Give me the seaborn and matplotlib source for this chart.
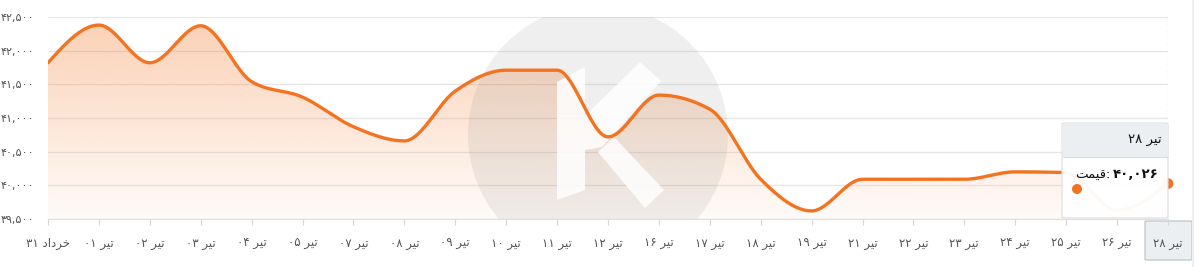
import numpy as np
import pandas as pd
import matplotlib
matplotlib.use("Agg")
import matplotlib.pyplot as plt
import seaborn as sns
from matplotlib.patches import Polygon, FancyBboxPatch, Rectangle, Ellipse
from matplotlib.lines import Line2D

# ---------------- data ----------------
categories = ["خرداد ۳۱", "تیر ۰۱", "تیر ۰۲", "تیر ۰۳", "تیر ۰۴", "تیر ۰۵", "تیر ۰۷",
              "تیر ۰۸", "تیر ۰۹", "تیر ۱۰", "تیر ۱۱", "تیر ۱۲", "تیر ۱۶", "تیر ۱۷",
              "تیر ۱۸", "تیر ۱۹", "تیر ۲۱", "تیر ۲۲", "تیر ۲۳", "تیر ۲۴", "تیر ۲۵",
              "تیر ۲۶", "تیر ۲۸"]
prices = [41820, 42380, 41820, 42370, 41540, 41310, 40870, 40660, 41400, 41710,
          41710, 40720, 41340, 41130, 40090, 39620, 40090, 40090, 40090, 40200,
          40190, 39630, 40026]
y_ticks = [39500, 40000, 40500, 41000, 41500, 42000, 42500]
series_name = "قیمت"
hover_index = 22

# ---------------- simple Arabic-script shaping (visual order) ----------------
FORMS = {  # isolated, final, initial, medial
    "ت": ("\uFE95", "\uFE96", "\uFE97", "\uFE98"),
    "ی": ("\uFBFC", "\uFBFD", "\uFEF3", "\uFEF4"),
    "ر": ("\uFEAD", "\uFEAE", None, None),
    "خ": ("\uFEA5", "\uFEA6", "\uFEA7", "\uFEA8"),
    "د": ("\uFEA9", "\uFEAA", None, None),
    "ا": ("\uFE8D", "\uFE8E", None, None),
    "ق": ("\uFED5", "\uFED6", "\uFED7", "\uFED8"),
    "م": ("\uFEE1", "\uFEE2", "\uFEE3", "\uFEE4"),
}


def dual(c):
    return c in FORMS and FORMS[c][2] is not None


def shape_word(w):
    out = []
    for i, c in enumerate(w):
        if c not in FORMS:
            out.append(c)
            continue
        jp = i > 0 and dual(w[i - 1])
        jn = i < len(w) - 1 and w[i + 1] in FORMS and dual(c)
        f = FORMS[c]
        if jp and jn:
            out.append(f[3])
        elif jp:
            out.append(f[1])
        elif jn:
            out.append(f[2])
        else:
            out.append(f[0])
    return "".join(reversed(out))


def visual(s):
    toks = s.split(" ")
    res = []
    for t in reversed(toks):
        if any(c in FORMS for c in t):
            res.append(shape_word(t))
        else:
            res.append(t)
    return " ".join(res)


PDIG = str.maketrans("0123456789", "۰۱۲۳۴۵۶۷۸۹")


def fa_num(v):
    return format(int(v), ",").translate(PDIG)


# ---------------- smoothing (monotone cubic, like d3 curveMonotoneX) ----------------
def monotone(xs, ys, n=40):
    xs = np.asarray(xs, float)
    ys = np.asarray(ys, float)
    h = np.diff(xs)
    s = np.diff(ys) / h
    m = np.zeros_like(ys)
    for i in range(1, len(ys) - 1):
        s0, s1 = s[i - 1], s[i]
        p = (s0 * h[i] + s1 * h[i - 1]) / (h[i - 1] + h[i])
        m[i] = (np.sign(s0) + np.sign(s1)) * min(abs(s0), abs(s1), 0.5 * abs(p))
    m[0] = (3 * s[0] - m[1]) / 2
    m[-1] = (3 * s[-1] - m[-2]) / 2
    X, Y = [], []
    for i in range(len(xs) - 1):
        t = np.linspace(0, 1, n, endpoint=(i == len(xs) - 2))
        h00 = 2 * t**3 - 3 * t**2 + 1
        h10 = t**3 - 2 * t**2 + t
        h01 = -2 * t**3 + 3 * t**2
        h11 = t**3 - t**2
        X.append(xs[i] + t * h[i])
        Y.append(h00 * ys[i] + h10 * h[i] * m[i] + h01 * ys[i + 1] + h11 * h[i] * m[i + 1])
    return np.concatenate(X), np.concatenate(Y)


# ---------------- figure ----------------
sns.set_theme(style="white")
plt.rcParams["font.family"] = ["DejaVu Sans"]

W, H = 1196, 267
fig = plt.figure(figsize=(W / 100, H / 100), dpi=100)
fig.patch.set_facecolor("white")


def P(x, y):
    return (x / W, (H - y) / H)


ax_l, ax_r, ax_t, ax_b = 48, 1168, 17, 219
ax = fig.add_axes([ax_l / W, (H - ax_b) / H, (ax_r - ax_l) / W, (ax_b - ax_t) / H])
ax.set_facecolor("none")

ORANGE = "#f47321"
xi = np.arange(len(categories))
sx, sy = monotone(xi, prices)
df = pd.DataFrame({"x": sx, "y": sy})

# gridlines
for v in y_ticks:
    ax.axhline(v, color="#e6e6e6", lw=0.9, zorder=0.5)

# gradient area
fill = ax.fill_between(sx, sy, y_ticks[0], color="none", lw=0)
grad = np.linspace(0.03, 0.33, 256).reshape(-1, 1)
rgba = np.zeros((256, 1, 4))
rgba[..., :3] = matplotlib.colors.to_rgb(ORANGE)
rgba[..., 3] = grad
top = max(prices)
im = ax.imshow(rgba, extent=[0, len(categories) - 1, y_ticks[0], top + 60], origin="lower",
               aspect="auto", zorder=1, interpolation="bilinear")
im.set_clip_path(fill.get_paths()[0], transform=ax.transData)
ax.set_xlim(0, len(categories) - 1)
ax.set_ylim(y_ticks[0], y_ticks[-1])

# watermark
wm = Ellipse(P(598, 135), 260 / W, 260 / H, transform=fig.transFigure,
             facecolor=(0.45, 0.45, 0.45), alpha=0.11, edgecolor="none", zorder=1.5)
ax.add_artist(wm)
k_parts = [
    [(557, 82), (585, 67), (585, 190), (557, 200)],
    [(640, 62), (661, 81), (602, 147), (585, 150), (585, 116)],
    [(598, 152), (614, 137), (664, 190), (645, 208)],
]
for pts in k_parts:
    ax.add_artist(Polygon([P(*p) for p in pts], closed=True, transform=fig.transFigure,
                          facecolor="white", alpha=0.85, edgecolor="none", zorder=1.6))

# line
sns.lineplot(data=df, x="x", y="y", ax=ax, color=ORANGE, lw=2.4, sort=False,
             estimator=None, zorder=3)

# crosshair and hover marker
ax.axvline(hover_index, color="#b5b5b5", lw=0.8, ls=(0, (3, 3)), zorder=2)
ax.scatter([hover_index], [prices[hover_index]], s=60, color=ORANGE, zorder=4,
           clip_on=False, edgecolor="none")

# axes styling
for sp in ["top", "right", "left"]:
    ax.spines[sp].set_visible(False)
ax.spines["bottom"].set_color("#e0e0e0")
ax.spines["bottom"].set_linewidth(0.9)
ax.set_xticks(xi)
ax.set_xticklabels([visual(c) for c in categories], fontsize=8.5, color="#555555")
ax.set_yticks(y_ticks)
ax.set_yticklabels([fa_num(v) for v in y_ticks], fontsize=8, color="#555555")
ax.tick_params(axis="x", length=4, width=0.8, color="#d6d6d6", pad=9, bottom=True)
ax.tick_params(axis="y", length=0, pad=10, left=False)
ax.set_xlabel("")
ax.set_ylabel("")
ax.grid(False)

# highlighted x label box
fig.patches.append(FancyBboxPatch(P(1145, 260), 47 / W, 39 / H,
                                  boxstyle="round,pad=0,rounding_size=0.002",
                                  transform=fig.transFigure, facecolor="#eceff1",
                                  edgecolor="#b7c0c7", lw=0.8, zorder=-1))

# right container border
fig.add_artist(Line2D([1193 / W, 1193 / W], [0, 1], color="#efefef", lw=1.5))

# tooltip
fig.patches.append(FancyBboxPatch(P(1062, 218), 106 / W, 95 / H,
                                  boxstyle="round,pad=0,rounding_size=0.004",
                                  transform=fig.transFigure, facecolor=(1, 1, 1, 0.96),
                                  edgecolor="#dddddd", lw=0.8, zorder=5))
fig.patches.append(Rectangle(P(1062.5, 157), 105 / W, 33.5 / H, transform=fig.transFigure,
                             facecolor="#eceff1", edgecolor="none", zorder=5.1))
fig.add_artist(Line2D([1062.5 / W, 1167.5 / W], [(H - 157) / H] * 2, color="#dddddd",
                      lw=0.8, zorder=5.2))
fig.text(*P(1162, 140), visual(categories[hover_index]), ha="right", va="center",
         fontsize=9.5, color="#111111", zorder=6)
num = fig.text(*P(1159, 175), fa_num(prices[hover_index]), ha="right", va="center",
               fontsize=9.5, fontweight="bold", color="#111111", zorder=6)
fig.canvas.draw()
bb = num.get_window_extent()
fig.text(bb.x0 / W - 3 / W, (H - 175) / H, shape_word(series_name) + ":", ha="right",
         va="center", fontsize=9.5, color="#111111", zorder=6)
fig.add_artist(Ellipse(P(1077, 189), 10 / W, 10 / H, transform=fig.transFigure,
                       facecolor=ORANGE, edgecolor="none", zorder=6))

fig.savefig("out.png", dpi=100)
